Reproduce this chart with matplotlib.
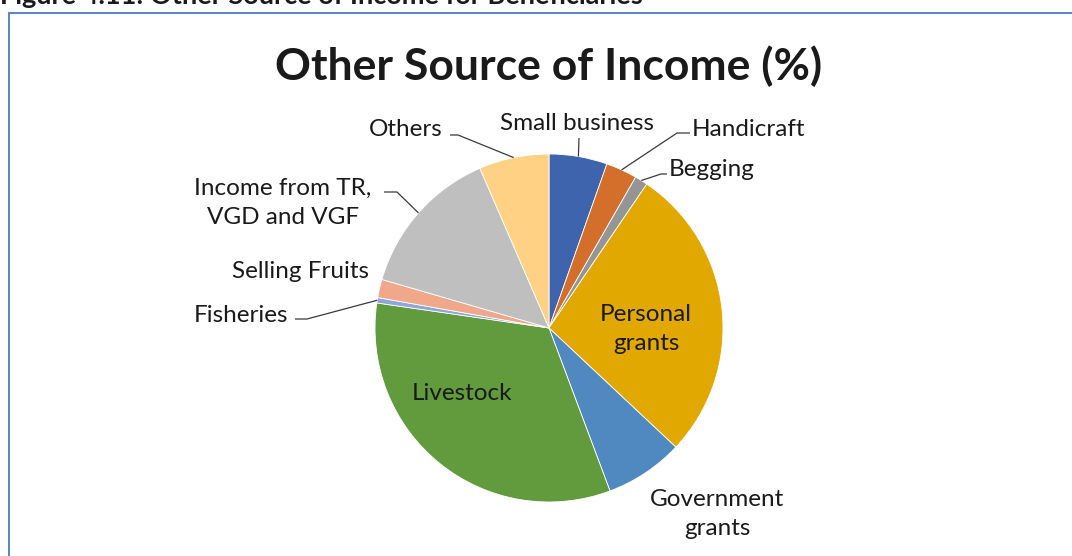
import numpy as np
import matplotlib
matplotlib.use("Agg")
import matplotlib.pyplot as plt
from matplotlib.patches import Rectangle

# Shares of other income sources (%), clockwise from 12 o'clock
categories = ["Small business", "Handicraft", "Begging", "Personal grants",
              "Government grants", "Livestock", "Fisheries", "Selling Fruits",
              "Income from TR, VGD and VGF", "Others"]
values = [5.4, 2.9, 1.2, 27.5, 7.3, 33.0, 0.5, 1.7, 14.0, 6.5]
colors = ["#3E64AE", "#D36F2B", "#959595", "#E0A800", "#4F89C0",
          "#629B3E", "#8EA6D8", "#F1A78A", "#BFBFBF", "#FFD184"]

W, H = 1072, 556
fig = plt.figure(figsize=(W / 100, H / 100), dpi=100)
ax = fig.add_axes([0, 0, 1, 1])
ax.set_xlim(0, W)
ax.set_ylim(H, 0)
ax.set_aspect("equal")
ax.axis("off")

FONT = "Lato"
TXT = "#1A1A1A"

# Pie placement in pixel units (y grows downward)
cx, cy, R = 549, 328, 174

# Outer frame
fig.patches.append(Rectangle((9 / W, -0.1), 1.2, 1 - 13 / H + 0.1,
                             transform=fig.transFigure, fill=False,
                             edgecolor="#4A7CC8", linewidth=1.3))

# Caption, clipped by the top edge
fig.text(0.0 / W, 1 - 4 / H, "Figure 4.11: Other Source of Income for Beneficiaries",
         fontsize=19.5, fontweight="bold", family=FONT, color=TXT,
         ha="left", va="baseline")

ax.text(cx, 66, "Other Source of Income (%)", fontsize=32, fontweight="bold",
        family=FONT, color=TXT, ha="center", va="center")

# With y inverted, counterclock=True renders as clockwise on screen
wedges, _ = ax.pie(values, colors=colors, startangle=-90, counterclock=True,
                   center=(cx, cy), radius=R,
                   wedgeprops=dict(edgecolor="white", linewidth=0.6))
ax.set_xlim(0, W)
ax.set_ylim(H, 0)

# Mid-angle of each wedge, clockwise from top
cum = np.cumsum([0] + values)
mid = (cum[:-1] + cum[1:]) / 2 / sum(values) * 2 * np.pi


def edge_point(i, r=1.0):
    return cx + R * r * np.sin(mid[i]), cy - R * r * np.cos(mid[i])


fs = 17.5
LS = 1.46
# Labels: (index, text, x, y, ha, elbow points before the wedge edge)
outside = [
    (0, "Small business", 577, 124, "center", [(579, 138)]),
    (1, "Handicraft", 692, 130, "left", [(690, 133), (677, 133)]),
    (2, "Begging", 669, 169, "left", [(667, 174), (661, 174)]),
    (9, "Others", 443, 130, "right", [(450, 135), (458, 135)]),
    (8, "Income from TR,\nVGD and VGF", 283, 203, "center", [(384, 192), (397, 192)]),
    (6, "Fisheries", 288, 315, "right", [(295, 319), (307, 319)]),
]
for i, label, x, y, ha, elbow in outside:
    ax.text(x, y, label, fontsize=fs, family=FONT, color=TXT, ha=ha,
            va="center", linespacing=LS)
    ex, ey = edge_point(i)
    pts = elbow + [(ex, ey)]
    ax.plot([p[0] for p in pts], [p[1] for p in pts], color="#3A3A3A", lw=0.9,
            solid_capstyle="butt")

ax.text(301, 271, "Selling Fruits", fontsize=fs, family=FONT, color=TXT,
        ha="center", va="center")
ax.text(646, 329, "Personal\ngrants", fontsize=fs, family=FONT, color=TXT,
        ha="center", va="center", linespacing=LS)
ax.text(462, 394, "Livestock", fontsize=fs, family=FONT, color=TXT,
        ha="center", va="center")
ax.text(717, 514, "Government\ngrants", fontsize=fs, family=FONT, color=TXT,
        ha="center", va="center", linespacing=LS)

fig.savefig("out.png", dpi=100)
